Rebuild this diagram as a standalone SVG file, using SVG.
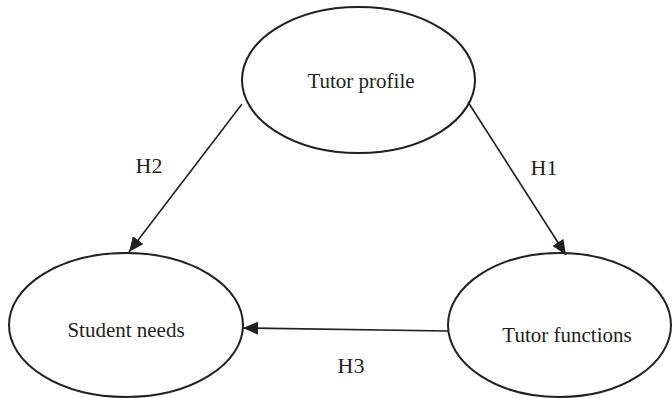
<svg xmlns="http://www.w3.org/2000/svg" width="672" height="398" viewBox="0 0 672 398">
<style>
.node ellipse{fill:#fff;stroke:#231f20;stroke-width:2}
text{font-family:"Liberation Serif","Times New Roman",serif;fill:#231f20;text-anchor:middle}
.lbl{font-size:21px}
.edge{font-size:22px}
.conn line{stroke:#231f20;stroke-width:1.6}
</style>
<defs>
<marker id="arr" markerUnits="userSpaceOnUse" markerWidth="16" markerHeight="13" refX="15" refY="6.5" orient="auto">
<path d="M0,0 L15,6.5 L0,13 z" fill="#231f20"/>
</marker>
</defs>
<g id="tutor-profile" class="node">
<ellipse cx="358.5" cy="80" rx="116.5" ry="73"/>
<text class="lbl" x="361" y="88">Tutor profile</text>
</g>
<g id="student-needs" class="node">
<ellipse cx="126" cy="325" rx="117" ry="72"/>
<text class="lbl" x="126" y="337">Student needs</text>
</g>
<g id="tutor-functions" class="node">
<ellipse cx="559.5" cy="325" rx="111.5" ry="72"/>
<text class="lbl" x="567" y="342">Tutor functions</text>
</g>
<g id="connectors" class="conn">
<line x1="242" y1="104" x2="129" y2="252" marker-end="url(#arr)"/>
<line x1="468" y1="102" x2="566" y2="255" marker-end="url(#arr)"/>
<line x1="448" y1="331" x2="243" y2="328" marker-end="url(#arr)"/>
<text class="edge" x="149" y="173">H2</text>
<text class="edge" x="544" y="175">H1</text>
<text class="edge" x="351" y="373">H3</text>
</g>
</svg>
